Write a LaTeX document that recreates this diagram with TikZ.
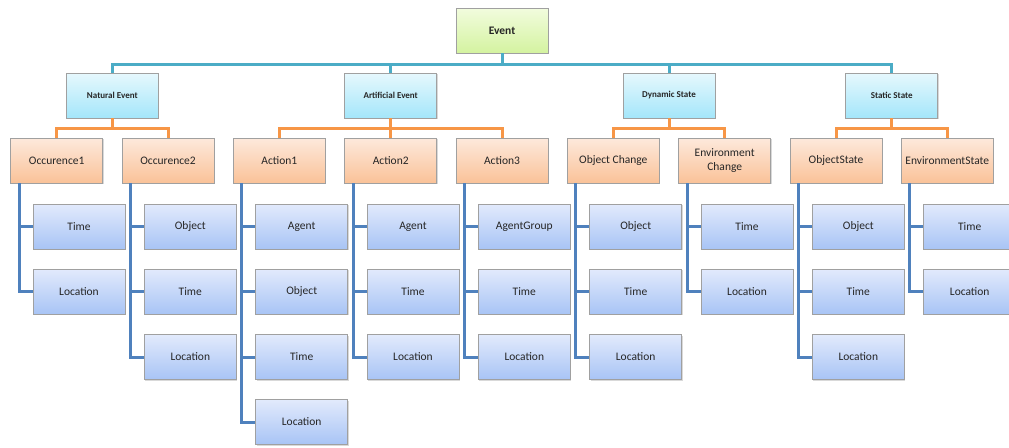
\documentclass[tikz,border=0pt]{standalone}
\usepackage{fontspec}
\setmainfont{Carlito}
\usetikzlibrary{shadows}
\definecolor{tealline}{RGB}{75,172,198}
\definecolor{orangeline}{RGB}{247,150,70}
\definecolor{blueline}{RGB}{79,129,189}
\definecolor{boxedge}{RGB}{160,160,160}
\begin{document}
\begin{tikzpicture}[x=1pt,y=-1pt,
    box/.style={draw=boxedge,line width=0.8pt,minimum width=92pt,minimum height=45pt,
      inner sep=1pt,align=center,text=black!85,
      drop shadow={shadow xshift=1pt,shadow yshift=-1.2pt,opacity=0.3}},
    rootbox/.style={box,top color={rgb,255:red,242;green,252;blue,222},
      bottom color={rgb,255:red,212;green,243;blue,160},font=\fontsize{11.5}{13}\selectfont\bfseries},
    groupbox/.style={box,top color={rgb,255:red,230;green,248;blue,253},
      bottom color={rgb,255:red,164;green,230;blue,250},font=\fontsize{9}{10}\selectfont\bfseries},
    kindbox/.style={box,top color={rgb,255:red,253;green,233;blue,220},
      bottom color={rgb,255:red,250;green,194;blue,152},font=\fontsize{11.5}{13.5}\selectfont},
    leafbox/.style={box,top color={rgb,255:red,226;green,234;blue,252},
      bottom color={rgb,255:red,168;green,196;blue,245},font=\fontsize{11.5}{13.5}\selectfont},
    tealwire/.style={draw=tealline,line width=3pt},
    orangewire/.style={draw=orangeline,line width=3pt},
    bluewire/.style={draw=blueline,line width=3pt}]
  \clip (0,0) rectangle (1009,447);
  % root and groups
  \node[rootbox] (ev) at (502,30.5) {Event};
  \node[groupbox] (ne) at (112.3,95.5) {Natural Event};
  \node[groupbox] (ae) at (390.7,95.5) {Artificial Event};
  \node[groupbox] (ds) at (669,95.5) {Dynamic State};
  \node[groupbox] (ss) at (891.7,95.5) {Static State};
  % kinds
  \node[kindbox] (o1) at (56.7,160.5) {Occurence1};
  \node[kindbox] (o2) at (168,160.5) {Occurence2};
  \node[kindbox] (a1) at (279.3,160.5) {Action1};
  \node[kindbox] (a2) at (390.7,160.5) {Action2};
  \node[kindbox] (a3) at (502,160.5) {Action3};
  \node[kindbox] (oc) at (613.3,160.5) {Object Change};
  \node[kindbox] (ec) at (724.7,160.5) {Environment\\Change};
  \node[kindbox] (os) at (836,160.5) {ObjectState};
  \node[kindbox] (es) at (947.3,160.5) {EnvironmentState};
  % leaves
  \node[leafbox] (o1t) at (79,226.5) {Time};
  \node[leafbox] (o1l) at (79,291.5) {Location};
  \node[leafbox] (o2o) at (190.3,226.5) {Object};
  \node[leafbox] (o2t) at (190.3,291.5) {Time};
  \node[leafbox] (o2l) at (190.3,357) {Location};
  \node[leafbox] (a1a) at (301.7,226.5) {Agent};
  \node[leafbox] (a1o) at (301.7,291.5) {Object};
  \node[leafbox] (a1t) at (301.7,357) {Time};
  \node[leafbox] (a1l) at (301.7,422) {Location};
  \node[leafbox] (a2a) at (413,226.5) {Agent};
  \node[leafbox] (a2t) at (413,291.5) {Time};
  \node[leafbox] (a2l) at (413,357) {Location};
  \node[leafbox] (a3g) at (524.3,226.5) {AgentGroup};
  \node[leafbox] (a3t) at (524.3,291.5) {Time};
  \node[leafbox] (a3l) at (524.3,357) {Location};
  \node[leafbox] (oco) at (635.7,226.5) {Object};
  \node[leafbox] (oct) at (635.7,291.5) {Time};
  \node[leafbox] (ocl) at (635.7,357) {Location};
  \node[leafbox] (ect) at (747,226.5) {Time};
  \node[leafbox] (ecl) at (747,291.5) {Location};
  \node[leafbox] (oso) at (858.3,226.5) {Object};
  \node[leafbox] (ost) at (858.3,291.5) {Time};
  \node[leafbox] (osl) at (858.3,357) {Location};
  \node[leafbox] (est) at (969.7,226.5) {Time};
  \node[leafbox] (esl) at (969.7,291.5) {Location};
  % buses
  \coordinate (evbus) at (502,64);
  \coordinate (nebus) at (112.3,128.5);
  \coordinate (aebus) at (390.7,128.5);
  \coordinate (dsbus) at (669,128.5);
  \coordinate (ssbus) at (891.7,128.5);
  \begin{scope}
    \draw[tealwire] (ne.north) |- (evbus) -- (ev.south);
    \draw[tealwire] (ae.north) |- (evbus);
    \draw[tealwire] (ds.north) |- (evbus);
    \draw[tealwire] (ss.north) |- (evbus);
    \draw[orangewire] (o1.north) |- (nebus) -- (ne.south);
    \draw[orangewire] (o2.north) |- (nebus);
    \draw[orangewire] (a1.north) |- (aebus) -- (ae.south);
    \draw[orangewire] (a2.north) -- (ae.south);
    \draw[orangewire] (a3.north) |- (aebus);
    \draw[orangewire] (oc.north) |- (dsbus) -- (ds.south);
    \draw[orangewire] (ec.north) |- (dsbus);
    \draw[orangewire] (os.north) |- (ssbus) -- (ss.south);
    \draw[orangewire] (es.north) |- (ssbus);
    \draw[bluewire] ([xshift=9pt]o1.south west) |- (o1l.west);
    \draw[bluewire] ([xshift=9pt]o1.south west) |- (o1t.west);
    \draw[bluewire] ([xshift=9pt]o2.south west) |- (o2l.west);
    \draw[bluewire] ([xshift=9pt]o2.south west) |- (o2o.west);
    \draw[bluewire] ([xshift=9pt]o2.south west) |- (o2t.west);
    \draw[bluewire] ([xshift=9pt]a1.south west) |- (a1l.west);
    \draw[bluewire] ([xshift=9pt]a1.south west) |- (a1a.west);
    \draw[bluewire] ([xshift=9pt]a1.south west) |- (a1o.west);
    \draw[bluewire] ([xshift=9pt]a1.south west) |- (a1t.west);
    \draw[bluewire] ([xshift=9pt]a2.south west) |- (a2l.west);
    \draw[bluewire] ([xshift=9pt]a2.south west) |- (a2a.west);
    \draw[bluewire] ([xshift=9pt]a2.south west) |- (a2t.west);
    \draw[bluewire] ([xshift=9pt]a3.south west) |- (a3l.west);
    \draw[bluewire] ([xshift=9pt]a3.south west) |- (a3g.west);
    \draw[bluewire] ([xshift=9pt]a3.south west) |- (a3t.west);
    \draw[bluewire] ([xshift=9pt]oc.south west) |- (ocl.west);
    \draw[bluewire] ([xshift=9pt]oc.south west) |- (oco.west);
    \draw[bluewire] ([xshift=9pt]oc.south west) |- (oct.west);
    \draw[bluewire] ([xshift=9pt]ec.south west) |- (ecl.west);
    \draw[bluewire] ([xshift=9pt]ec.south west) |- (ect.west);
    \draw[bluewire] ([xshift=9pt]os.south west) |- (osl.west);
    \draw[bluewire] ([xshift=9pt]os.south west) |- (oso.west);
    \draw[bluewire] ([xshift=9pt]os.south west) |- (ost.west);
    \draw[bluewire] ([xshift=9pt]es.south west) |- (esl.west);
    \draw[bluewire] ([xshift=9pt]es.south west) |- (est.west);
  \end{scope}
\end{tikzpicture}
\end{document}
